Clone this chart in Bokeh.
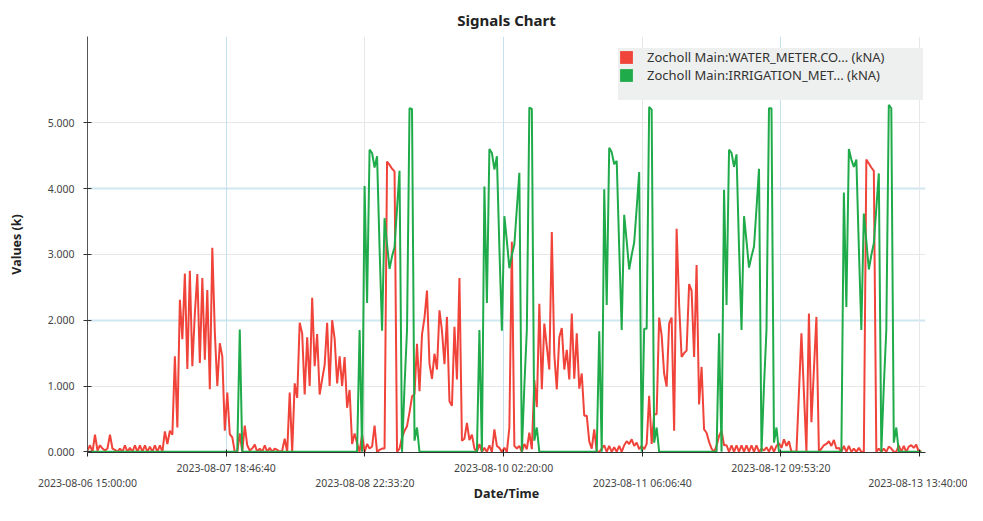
import math
import pandas as pd
from bokeh.plotting import figure
from bokeh.models import (Range1d, FixedTicker, NumeralTickFormatter, Grid, Legend, LegendItem)
from bokeh.embed import file_html
from bokeh.resources import INLINE

# ---------------- data (values in k, sampled every 30 minutes) ----------------
start_time = "2023-08-06 15:00:00"
sample_step = "30min"
x_end_time = "2023-08-13 14:51:00"

water = [
    0.02, 0.1, 0.0, 0.26, 0.02, 0.1, 0.05, 0.02, 0.05, 0.26,
    0.05, 0.03, 0.0, 0.05, 0.0, 0.1, 0.0, 0.06, 0.0, 0.1,
    0.0, 0.1, 0.0, 0.1, 0.0, 0.08, 0.0, 0.1, 0.0, 0.1,
    0.0, 0.31, 0.12, 0.32, 0.26, 1.45, 0.37, 2.31, 1.71, 2.71,
    1.26, 2.75, 1.3, 2.1, 2.7, 1.35, 2.64, 1.4, 2.46, 0.95,
    3.1, 1.82, 1.0, 1.65, 1.45, 0.32, 0.9, 0.27, 0.22, 0.0,
    0.0, 0.28, 0.0, 0.4, 0.1, 0.02, 0.05, 0.11, 0.0, 0.05,
    0.0, 0.1, 0.0, 0.06, 0.0, 0.05, 0.03, 0.0, 0.02, 0.2,
    0.0, 0.9, 0.0, 1.04, 0.82, 1.96, 1.8, 0.87, 1.74, 1.0,
    2.34, 1.3, 1.79, 0.87, 1.1, 1.32, 1.96, 1.0, 2.0, 1.72,
    1.04, 1.45, 1.0, 1.44, 0.67, 0.94, 0.12, 0.28, 0.13, 0.0,
    0.27, 0.0, 0.12, 0.05, 0.08, 0.4, 0.0, 0.03, 0.05, 0.05,
    4.41, 4.36, 4.3, 4.26, 0.0, 0.05, 0.22, 0.32, 0.39, 0.6,
    0.84, 0.88, 1.64, 0.92, 1.78, 2.04, 2.45, 1.34, 1.11, 1.49,
    1.25, 2.15, 1.84, 1.33, 2.05, 0.77, 0.7, 1.9, 1.1, 2.64,
    0.17, 0.2, 0.44, 0.18, 0.26, 0.05, 0.0, 0.12, 0.0, 0.06,
    0.0, 0.1, 0.0, 0.34, 0.09, 0.06, 0.0, 0.06, 0.0, 0.37,
    3.19, 0.09, 0.05, 0.09, 0.0, 0.12, 0.04, 0.29, 0.04, 1.09,
    0.68, 2.25, 0.95, 1.95, 1.6, 1.25, 3.34, 1.48, 0.95, 1.74,
    1.88, 1.25, 1.55, 1.1, 2.1, 1.11, 1.8, 0.96, 1.19, 0.55,
    0.55, 0.16, 0.05, 0.34, 0.0, 0.0, 0.05, 0.1, 0.0, 0.09,
    0.0, 0.07, 0.0, 0.09, 0.0, 0.1, 0.16, 0.12, 0.19, 0.09,
    0.14, 0.04, 0.09, 0.04, 0.12, 0.85, 0.12, 0.57, 0.57, 2.04,
    1.77, 1.19, 0.99, 1.95, 2.04, 0.32, 3.39, 2.24, 1.44, 1.5,
    1.54, 2.55, 2.45, 1.44, 2.84, 0.72, 1.29, 0.34, 0.29, 0.15,
    0.05, 0.0, 0.09, 0.24, 0.32, 0.1, 0.1, 0.0, 0.1, 0.0,
    0.1, 0.0, 0.1, 0.0, 0.1, 0.0, 0.1, 0.0, 0.1, 0.0,
    0.05, 0.02, 0.07, 0.0, 0.09, 0.0, 0.09, 0.13, 0.06, 0.19,
    0.09, 0.16, 0.0, 0.0, 0.0, 0.9, 1.8, 0.9, 0.0, 2.1,
    0.45, 1.25, 2.05, 0.0, 0.05, 0.1, 0.12, 0.16, 0.09, 0.18,
    0.05, 0.06, 0.0, 0.09, 0.0, 0.09, 0.0, 0.05, 0.0, 0.06,
    0.0, 0.0, 4.44, 4.38, 4.32, 4.27, 0.0, 0.05, 0.0, 0.05,
    0.0, 0.08, 0.05, 0.0, 0.0, 0.1, 0.0, 0.09, 0.0, 0.08,
    0.1, 0.06, 0.11, 0.0, 0.02,
]

irrigation = [
    0, 0, 0, 0, 0, 0, 0, 0, 0, 0,
    0, 0, 0, 0, 0, 0, 0, 0, 0, 0,
    0, 0, 0, 0, 0, 0, 0, 0, 0, 0,
    0, 0, 0, 0, 0, 0, 0, 0, 0, 0,
    0, 0, 0, 0, 0, 0, 0, 0, 0, 0,
    0, 0, 0, 0, 0, 0, 0, 0, 0, 0,
    0, 1.86, 0, 0, 0, 0, 0, 0, 0, 0,
    0, 0, 0, 0, 0, 0, 0, 0, 0, 0,
    0, 0, 0, 0, 0, 0, 0, 0, 0, 0,
    0, 0, 0, 0, 0, 0, 0, 0, 0, 0,
    0, 0, 0, 0, 0, 0, 0, 0, 0, 1.85,
    0, 4.04, 2.26, 4.59, 4.54, 4.32, 4.49, 3.1, 1.84, 3.55,
    3.15, 2.78, 2.97, 3.11, 3.7, 4.27, 0, 1.0, 1.85, 5.22,
    5.21, 0.17, 0.37, 0, 0, 0, 0, 0, 0, 0,
    0, 0, 0, 0, 0, 0, 0, 0, 0, 0,
    0, 0, 0, 0, 0, 0, 0, 1.85, 0, 4.03,
    2.26, 4.6, 4.54, 4.29, 4.49, 3.1, 1.84, 3.58, 3.2, 2.79,
    2.99, 3.15, 3.7, 4.24, 0, 1.0, 1.85, 5.23, 5.21, 0.17,
    0.37, 0, 0, 0, 0, 0, 0, 0, 0, 0,
    0, 0, 0, 0, 0, 0, 0, 0, 0, 0,
    0, 0, 0, 0, 0, 1.83, 0, 3.99, 2.23, 4.62,
    4.55, 4.37, 4.42, 3.1, 1.85, 3.6, 3.2, 2.77, 2.99, 3.18,
    3.7, 4.25, 0, 1.87, 1.87, 5.24, 5.2, 0.14, 0.37, 0,
    0, 0, 0, 0, 0, 0, 0, 0, 0, 0,
    0, 0, 0, 0, 0, 0, 0, 0, 0, 0,
    0, 0, 0, 1.8, 0, 3.98, 2.23, 4.59, 4.54, 4.33,
    4.52, 3.1, 1.85, 3.58, 3.2, 2.8, 2.97, 3.12, 3.7, 4.3,
    0, 1.0, 1.85, 5.22, 5.22, 0.14, 0.37, 0, 0, 0,
    0, 0, 0, 0, 0, 0, 0, 0, 0, 0,
    0, 0, 0, 0, 0, 0, 0, 0, 0, 0,
    0, 0, 0, 3.94, 2.2, 4.6, 4.44, 4.33, 4.44, 3.1,
    1.85, 3.62, 3.2, 2.77, 2.99, 3.17, 3.7, 4.23, 0, 1.0,
    1.85, 5.27, 5.22, 0.14, 0.37, 0, 0, 0, 0, 0,
    0, 0, 0, 0, 0,
]

x_tick_labels = [
    "2023-08-06 15:00:00", "2023-08-07 18:46:40", "2023-08-08 22:33:20",
    "2023-08-10 02:20:00", "2023-08-11 06:06:40", "2023-08-12 09:53:20",
    "2023-08-13 13:40:00",
]
y_ticks = [0, 1, 2, 3, 4, 5]
series_names = ["Zocholl Main:WATER_METER.CO... (kNA)",
                "Zocholl Main:IRRIGATION_MET... (kNA)"]

# ---------------- styling ----------------
RED = "#f0433a"
GREEN = "#1fab4a"
FONT = "Noto Sans"
BLUE_GRID = "#cfe7f0"
GRAY_GRID = "#e7e7e7"

times = pd.date_range(start_time, periods=len(water), freq=sample_step)


def to_ms(t):
    return pd.Timestamp(t).value / 1e6


tick_ms = [to_ms(t) for t in x_tick_labels]

p = figure(width=967, height=505, x_axis_type="datetime",
           output_backend="svg", toolbar_location=None,
           x_range=Range1d(to_ms(start_time), to_ms(x_end_time)),
           y_range=Range1d(-0.01, 6.31),
           min_border_left=87, min_border_right=42,
           min_border_top=36, min_border_bottom=40,
           title="Signals Chart")
p.outline_line_color = None
p.background_fill_color = "white"
p.border_fill_color = "white"

p.title.text_font = FONT
p.title.text_font_size = "15px"
p.title.text_font_style = "bold"
p.title.text_color = "#222222"
p.title.align = "center"
p.title.standoff = 14

# y axis
ya = p.yaxis[0]
ya.ticker = FixedTicker(ticks=y_ticks)
ya.formatter = NumeralTickFormatter(format="0.000")
ya.major_tick_in = 4
ya.major_tick_out = 4
ya.minor_tick_line_color = None
ya.axis_line_color = "#555555"
ya.major_tick_line_color = "#333333"
ya.major_label_text_font = FONT
ya.major_label_text_font_size = "10.5px"
ya.major_label_text_color = "#444444"
ya.major_label_standoff = 9
ya.axis_label = "Values (k)"
ya.axis_label_text_font = FONT
ya.axis_label_text_font_size = "12.5px"
ya.axis_label_text_font_style = "bold"
ya.axis_label_text_color = "#222222"
ya.axis_label_standoff = 20

# x axis: labels alternate between two rows
labels_two_rows = {t: (lab if i % 2 == 1 else "\n" + lab)
                   for i, (t, lab) in enumerate(zip(tick_ms, x_tick_labels))}

xa = p.xaxis[0]
xa.ticker = FixedTicker(ticks=tick_ms)
xa.major_label_overrides = labels_two_rows
xa.major_tick_in = 3
xa.major_tick_out = 4
xa.minor_tick_line_color = None
xa.axis_line_color = "#333333"
xa.major_tick_line_color = "#222222"
xa.major_label_text_font = FONT
xa.major_label_text_font_size = "10.5px"
xa.major_label_text_color = "#444444"
xa.major_label_text_line_height = 1.12
xa.major_label_standoff = 4
xa.axis_label = "Date/Time"
xa.axis_label_text_font = FONT
xa.axis_label_text_font_size = "12.5px"
xa.axis_label_text_font_style = "bold"
xa.axis_label_text_color = "#222222"
xa.axis_label_standoff = -8

# grids
p.xgrid.visible = False
p.ygrid.visible = False
p.add_layout(Grid(dimension=1, ticker=FixedTicker(ticks=[t for t in y_ticks[1:] if t % 2 == 1]),
                  grid_line_color=GRAY_GRID, grid_line_width=1))
p.add_layout(Grid(dimension=1, ticker=FixedTicker(ticks=[t for t in y_ticks[1:] if t % 2 == 0]),
                  grid_line_color=BLUE_GRID, grid_line_width=2))
p.add_layout(Grid(dimension=0, ticker=FixedTicker(ticks=tick_ms[1::2]),
                  grid_line_color="#c3e2ee", grid_line_width=1))
p.add_layout(Grid(dimension=0, ticker=FixedTicker(ticks=tick_ms[2::2]),
                  grid_line_color=GRAY_GRID, grid_line_width=1))

# series
p.line(times, water, line_color=RED, line_width=2)
p.line(times, irrigation, line_color=GREEN, line_width=2)

# legend swatches (no visible marks in the plot)
nan = [math.nan]
sw_red = p.quad(left=nan, right=nan, top=nan, bottom=nan, fill_color=RED, line_color=None)
sw_green = p.quad(left=nan, right=nan, top=nan, bottom=nan, fill_color=GREEN, line_color=None)
sw_blank = p.quad(left=nan, right=nan, top=nan, bottom=nan, fill_alpha=0, line_alpha=0)

legend = Legend(items=[LegendItem(label=series_names[0], renderers=[sw_red]),
                       LegendItem(label=series_names[1], renderers=[sw_green]),
                       LegendItem(label=" ", renderers=[sw_blank])],
                location=(531, 352), padding=3, spacing=0,
                glyph_width=16, glyph_height=16, label_height=16, label_width=276,
                label_standoff=13, label_text_font=FONT, label_text_font_size="13px",
                label_text_color="#333333", background_fill_color="#eef0ef",
                background_fill_alpha=1.0, border_line_color=None)
p.add_layout(legend)

open("out.html", "w").write(file_html(p, INLINE))
